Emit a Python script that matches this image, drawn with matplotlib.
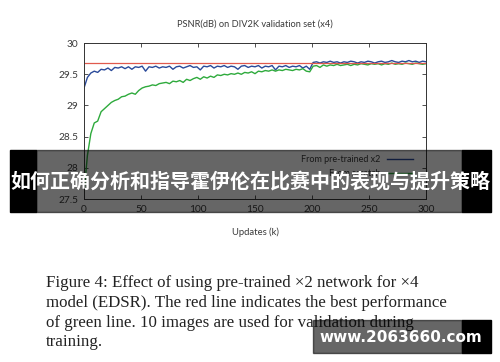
import numpy as np
import matplotlib
matplotlib.use("Agg")
import matplotlib.pyplot as plt
from matplotlib.patches import Rectangle

# PSNR on DIV2K validation (x4), sampled every 3k updates
updates = np.arange(0, 301, 3)

pretrained = [
    29.28, 29.45, 29.52, 29.55, 29.53, 29.58, 29.57, 29.60, 29.56, 29.61,
    29.60, 29.62, 29.59, 29.62, 29.58, 29.62, 29.61, 29.63, 29.55, 29.62,
    29.61, 29.63, 29.60, 29.62, 29.61, 29.63, 29.58, 29.62, 29.63, 29.60,
    29.62, 29.64, 29.61, 29.62, 29.57, 29.63, 29.62, 29.64, 29.60, 29.63,
    29.62, 29.64, 29.61, 29.63, 29.62, 29.58, 29.63, 29.64, 29.61, 29.63,
    29.62, 29.64, 29.60, 29.63, 29.62, 29.64, 29.57, 29.63, 29.62, 29.64,
    29.61, 29.63, 29.62, 29.64, 29.60, 29.63, 29.58, 29.69, 29.70, 29.68,
    29.70, 29.69, 29.71, 29.69, 29.70, 29.68, 29.70, 29.69, 29.71, 29.70,
    29.68, 29.70, 29.69, 29.71, 29.70, 29.68, 29.70, 29.71, 29.69, 29.70,
    29.72, 29.70, 29.69, 29.71, 29.70, 29.72, 29.70, 29.71, 29.69, 29.71,
    29.70,
]

scratch = [
    27.60, 28.20, 28.55, 28.72, 28.75, 28.90, 28.95, 29.00, 29.05, 29.08,
    29.10, 29.14, 29.15, 29.18, 29.20, 29.18, 29.24, 29.28, 29.30, 29.31,
    29.33, 29.32, 29.35, 29.36, 29.37, 29.35, 29.39, 29.38, 29.40, 29.37,
    29.42, 29.40, 29.43, 29.45, 29.42, 29.46, 29.44, 29.47, 29.45, 29.49,
    29.48, 29.50, 29.49, 29.51, 29.50, 29.52, 29.50, 29.53, 29.52, 29.54,
    29.51, 29.55, 29.54, 29.56, 29.55, 29.57, 29.55, 29.57, 29.56, 29.58,
    29.57, 29.56, 29.58, 29.57, 29.59, 29.55, 29.54, 29.63, 29.64, 29.61,
    29.65, 29.63, 29.65, 29.64, 29.66, 29.64, 29.65, 29.66, 29.64, 29.66,
    29.65, 29.67, 29.66, 29.65, 29.67, 29.66, 29.67, 29.65, 29.67, 29.66,
    29.68, 29.66, 29.67, 29.66, 29.68, 29.67, 29.66, 29.68, 29.67, 29.66,
    29.67,
]

best_scratch = 29.68

x_ticks = [0, 50, 100, 150, 200, 250, 300]
y_ticks = [27.5, 28, 28.5, 29, 29.5, 30]
y_labels = ["27.5", "28", "28.5", "29", "29.5", "30"]

caption = [
    "Figure 4: Effect of using pre-trained \u00d72 network for \u00d74",
    "model (EDSR). The red line indicates the best performance",
    "of green line. 10 images are used for validation during",
    "training.",
]
banner_text = "如何正确分析和指导霍伊伦在比赛中的表现与提升策略"
site_text = "www.2063660.com"

fig = plt.figure(figsize=(5, 3.62), dpi=100)
fig.patch.set_facecolor("white")

ax = fig.add_axes([0.168, 0.450, 0.684, 0.431])
txt = "#3a3a3a"
ax.plot(updates, pretrained, color="#2a4a9a", lw=1.0, label="From pre-trained x2")
ax.plot(updates, scratch, color="#2eaa3c", lw=1.0, label="From scratch")
ax.axhline(best_scratch, color="#e05a4e", lw=0.9)

ax.set_xlim(0, 300)
ax.set_ylim(27.5, 30)
ax.set_xticks(x_ticks)
ax.set_yticks(y_ticks)
ax.set_yticklabels(y_labels)
ax.tick_params(direction="in", top=True, right=True, length=3, width=0.6,
               labelsize=7.3, labelcolor=txt, color="#333333", pad=4)
for s in ax.spines.values():
    s.set_linewidth(0.7)
    s.set_color("#333333")
for lab in ax.get_xticklabels() + ax.get_yticklabels():
    lab.set_family("Lato")

fig.text(0.51, 0.934, "PSNR(dB) on DIV2K validation set (x4)", ha="center",
         va="center", fontsize=6.7, color=txt, family="Lato")
fig.text(0.51, 0.359, "Updates (k)", ha="center", va="center",
         fontsize=6.8, color=txt, family="Lato")

leg = ax.legend(loc="lower right", bbox_to_anchor=(0.985, 0.08), frameon=False,
                markerfirst=False, handlelength=2.8, labelspacing=0.6,
                prop={"family": "Lato", "size": 6.5})
for t in leg.get_texts():
    t.set_color(txt)

# caption
for i, line in enumerate(caption):
    fig.text(0.092, 0.218 - i * 0.0545, line, ha="left", va="center",
             fontsize=12.2, family="Liberation Serif", color="#222222")

# overlay banner
fig.patches.append(Rectangle((0.02, 0.414), 0.052, 0.172, transform=fig.transFigure,
                             color="black", zorder=5))
fig.patches.append(Rectangle((0.924, 0.414), 0.058, 0.172, transform=fig.transFigure,
                             color="black", zorder=5))
fig.patches.append(Rectangle((0.072, 0.414), 0.852, 0.172, transform=fig.transFigure,
                             color="black", alpha=0.6, zorder=5))
fig.text(0.5, 0.5, banner_text, ha="center", va="center", fontsize=14.4,
         fontweight="bold", color="white", family=["Noto Sans CJK SC", "DejaVu Sans"],
         zorder=6)

# watermark
fig.patches.append(Rectangle((0.626, 0.025), 0.298, 0.091, transform=fig.transFigure,
                             color="black", alpha=0.6, zorder=5))
fig.patches.append(Rectangle((0.924, 0.025), 0.058, 0.091, transform=fig.transFigure,
                             color="black", zorder=5))
fig.text(0.802, 0.069, site_text, ha="center", va="center", fontsize=11,
         fontweight="bold", color="white", family="DejaVu Sans", zorder=6)

fig.savefig("out.png", dpi=100)
